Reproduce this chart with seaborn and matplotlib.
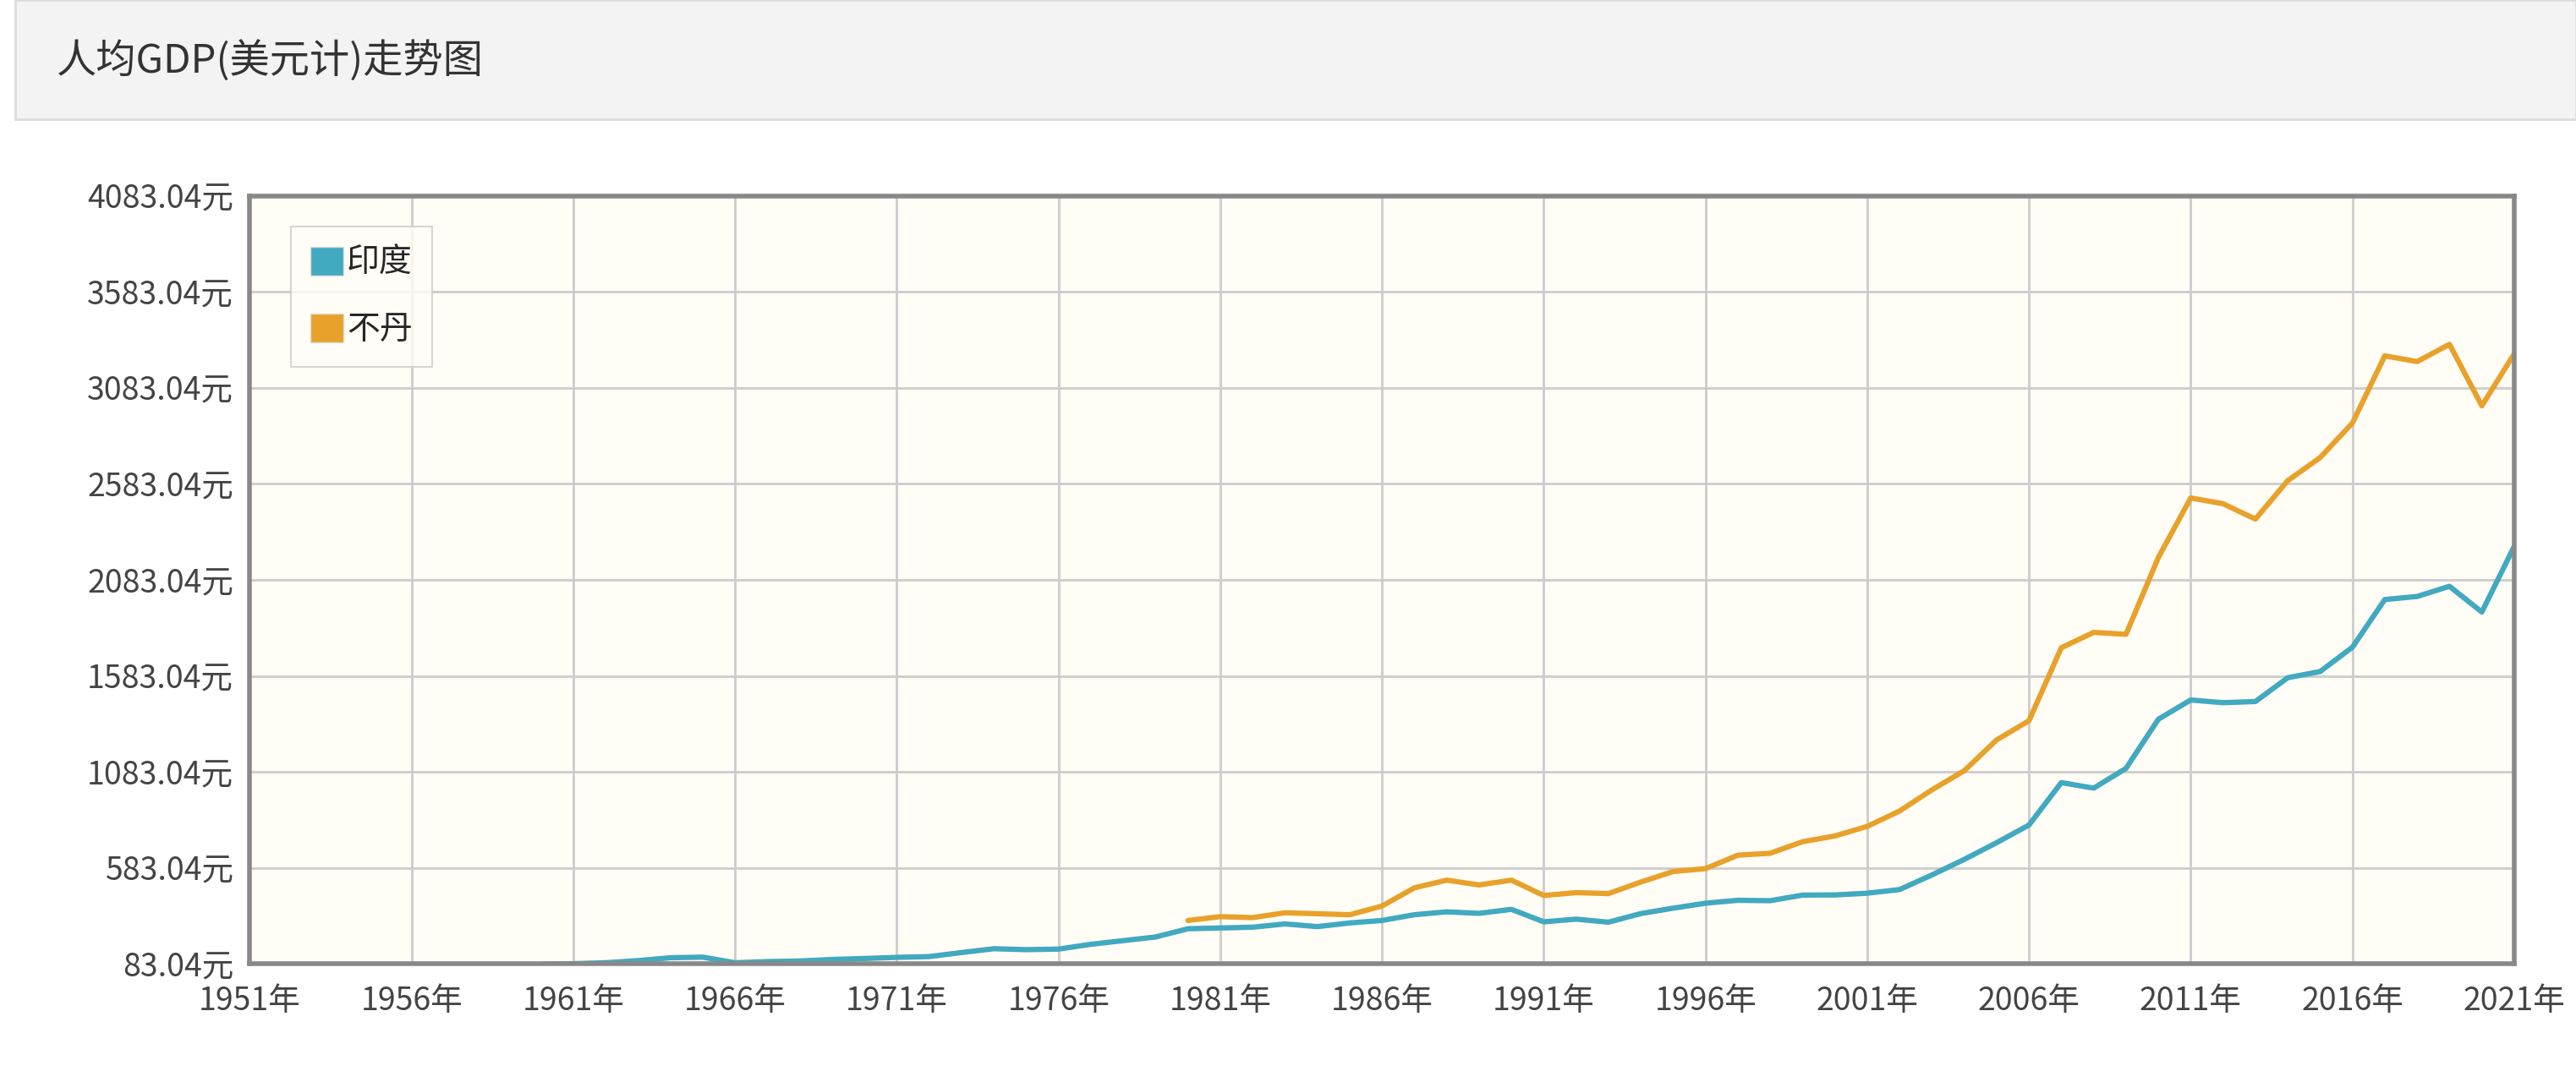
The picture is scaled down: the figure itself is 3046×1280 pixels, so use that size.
import matplotlib
matplotlib.use("Agg")
import matplotlib.pyplot as plt
import seaborn as sns
import pandas as pd
from matplotlib.patches import Rectangle, Patch

sns.set_theme(style="white")
plt.rcParams['font.family'] = ['Noto Sans CJK SC', 'DejaVu Sans']

years_india = list(range(1960, 2022))
india = [82, 85, 90, 101, 116, 119, 90, 96, 99, 107, 112, 118, 122, 143, 163, 158, 161, 186, 205, 224,
         267, 271, 275, 292, 278, 297, 310, 340, 355, 347, 368, 303, 317, 301, 346, 374, 400, 415, 413, 442,
         443, 452, 471, 547, 628, 715, 807, 1028, 999, 1102, 1358, 1458, 1444, 1450, 1574, 1606, 1733, 1981,
         1997, 2050, 1916, 2257]
years_bhutan = list(range(1980, 2022))
bhutan = [310, 330, 325, 350, 345, 340, 385, 480, 520, 495, 520, 440, 455, 450, 510, 565, 580, 650, 660, 720,
          750, 800, 880, 990, 1090, 1250, 1350, 1730, 1810, 1800, 2200, 2510, 2480, 2400, 2600, 2720, 2900, 3250,
          3220, 3310, 2990, 3260]
series_names = ["印度", "不丹"]
colors = ["#41a9c0", "#e8a12a"]
ytick_vals = [83.04 + 500 * i for i in range(9)]
xtick_years = list(range(1951, 2022, 5))

df = pd.concat([
    pd.DataFrame({"year": years_india, "val": india, "s": series_names[0]}),
    pd.DataFrame({"year": years_bhutan, "val": bhutan, "s": series_names[1]}),
])

fig = plt.figure(figsize=(30.46, 12.8), dpi=100)
fig.patch.set_facecolor("white")
fig.add_artist(Rectangle((0.006, 0.89), 0.994, 0.11, transform=fig.transFigure,
                         facecolor="#f3f3f3", edgecolor="#dddddd", linewidth=2))
fig.text(0.022, 0.943, "人均GDP(美元计)走势图", fontsize=34, color="#333333", va="center")

ax = fig.add_axes([0.097, 0.109, 0.879, 0.710])
ax.set_facecolor("#fffdf6")
sns.lineplot(data=df, x="year", y="val", hue="s", palette=colors, linewidth=4.5, ax=ax, legend=False)
ax.set_xlim(1951, 2021)
ax.set_ylim(83.04, 4083.04)
ax.set_xticks(xtick_years)
ax.set_xticklabels([f"{y}年" for y in xtick_years], fontsize=27, color="#444444")
ax.set_yticks(ytick_vals)
ax.set_yticklabels([f"{v:.2f}元" for v in ytick_vals], fontsize=27, color="#444444")
ax.grid(True, color="#cccccc", linewidth=2)
ax.tick_params(axis="both", length=8, width=2, color="#888888", direction="out", pad=6)
ax.tick_params(axis="x", pad=10)
ax.set_xlabel("")
ax.set_ylabel("")
for sp in ax.spines.values():
    sp.set_color("#888888")
    sp.set_linewidth(4)
handles = [Patch(facecolor=c, edgecolor="#dddddd") for c in colors]
leg = ax.legend(handles, series_names, loc="upper left", bbox_to_anchor=(0.018, 0.96), fontsize=28,
                frameon=True, fancybox=False, handlelength=1.0, handleheight=1.0, handletextpad=0.1,
                labelspacing=1.0, borderpad=0.6, borderaxespad=0)
leg.get_frame().set_edgecolor("#cccccc")
leg.get_frame().set_linewidth(1.5)
leg.get_frame().set_facecolor("#fffdf6")
fig.savefig("out.png", dpi=100)
